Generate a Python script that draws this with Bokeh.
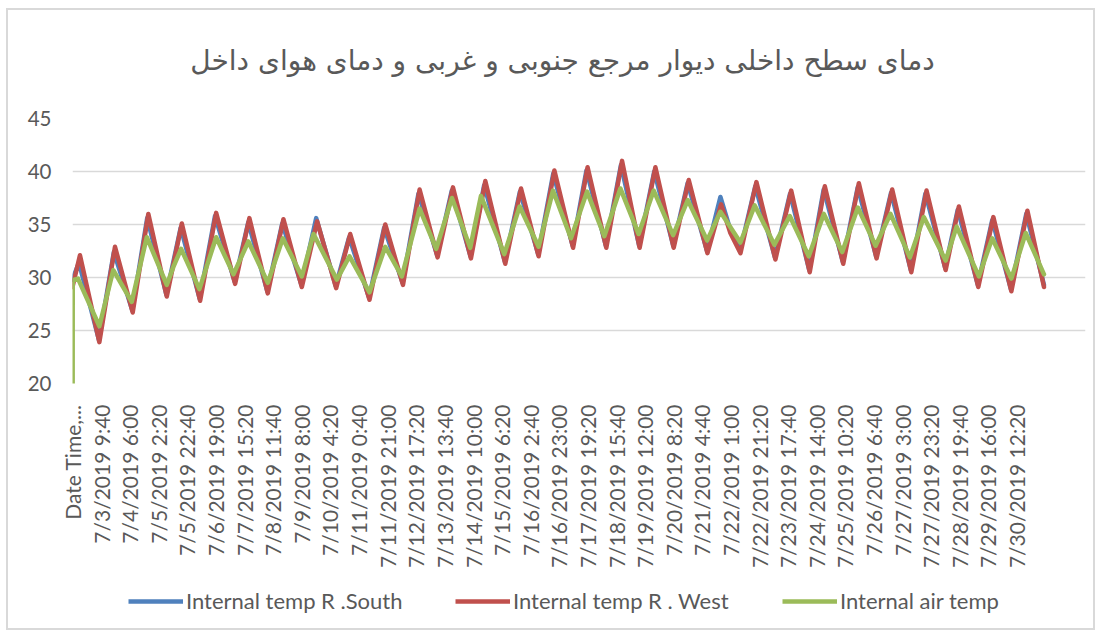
from math import pi
from bokeh.plotting import figure
from bokeh.layouts import column
from bokeh.core.properties import value
from bokeh.models import Range1d, FixedTicker, Legend, LegendItem
from bokeh.embed import file_html
from bokeh.resources import INLINE

# ---- data (time in hours from the "Date Time" category, 7/2/2019 13:20) ----
tick_labels = ["Date Time,...", "7/3/2019 9:40", "7/4/2019 6:00", "7/5/2019 2:20", "7/5/2019 22:40",
               "7/6/2019 19:00", "7/7/2019 15:20", "7/8/2019 11:40", "7/9/2019 8:00", "7/10/2019 4:20",
               "7/11/2019 0:40", "7/11/2019 21:00", "7/12/2019 17:20", "7/13/2019 13:40", "7/14/2019 10:00",
               "7/15/2019 6:20", "7/16/2019 2:40", "7/16/2019 23:00", "7/17/2019 19:20", "7/18/2019 15:40",
               "7/19/2019 12:00", "7/20/2019 8:20", "7/21/2019 4:40", "7/22/2019 1:00", "7/22/2019 21:20",
               "7/23/2019 17:40", "7/24/2019 14:00", "7/25/2019 10:20", "7/26/2019 6:40", "7/27/2019 3:00",
               "7/27/2019 23:20", "7/28/2019 19:40", "7/29/2019 16:00", "7/30/2019 12:20"]
label_step_min = 1220  # 20h20m between shown category labels

south_t = [0, 4.6, 18.8, 29.4, 42.5, 53.1, 66.7, 76.9, 90.4, 101.3, 115.3, 124.9, 138.5, 149.1, 162.7,
           173.2, 187.1, 196.6, 210.8, 221.5, 234.6, 245.9, 259.2, 269.6, 282.9, 292.6, 307.3, 318.0, 331.0,
           341.7, 355.5, 365.3, 379.1, 389.8, 402.8, 413.5, 427.0, 437.2, 451.0, 460.5, 467.3, 474.5, 485.3,
           499.3, 510.0, 523.7, 533.9, 547.5, 558.1, 571.2, 581.8, 595.9, 606.2, 620.3, 629.2, 643.5, 653.7,
           667.0, 677.9, 690.5]
south_v = [29.8, 31.4, 24.1, 32.4, 26.9, 35.6, 28.4, 34.7, 28.0, 35.8, 29.6, 35.2, 28.7, 35.1, 29.3,
           35.6, 29.2, 33.8, 28.1, 34.7, 29.5, 37.9, 32.1, 38.2, 32.0, 38.7, 31.5, 38.1, 32.2,
           39.8, 33.0, 40.1, 33.0, 40.6, 33.0, 40.0, 33.0, 38.9, 32.5, 37.6, 34.6, 32.5, 38.6,
           31.9, 37.9, 30.7, 38.3, 31.5, 38.5, 32.0, 38.0, 30.7, 37.9, 30.9, 36.4, 29.3, 35.4,
           28.9, 36.0, 29.3]

west_t = [0, 5.3, 19.1, 30.2, 42.8, 53.9, 67.0, 77.7, 90.7, 102.1, 115.6, 125.7, 138.8, 149.9, 163.0,
          173.9, 187.4, 197.4, 211.1, 222.3, 234.9, 246.7, 259.5, 270.4, 283.2, 293.4, 307.6, 318.8, 331.3,
          342.5, 355.8, 366.1, 379.4, 390.6, 403.1, 414.3, 427.3, 438.0, 451.3, 461.0, 467.6, 474.8, 486.1,
          499.6, 510.8, 524.0, 534.7, 547.8, 558.9, 571.5, 582.6, 596.2, 607.0, 620.6, 630.0, 643.8, 654.5,
          667.3, 678.7, 690.5]
west_v = [29.1, 32.1, 23.9, 32.9, 26.7, 36.0, 28.2, 35.1, 27.8, 36.1, 29.4, 35.6, 28.5, 35.5, 29.1,
          35.3, 29.0, 34.1, 27.9, 35.0, 29.3, 38.3, 31.9, 38.5, 31.8, 39.1, 31.3, 38.4, 32.0,
          40.1, 32.8, 40.4, 32.8, 41.0, 32.8, 40.4, 32.8, 39.2, 32.3, 36.9, 34.2, 32.3, 39.0,
          31.7, 38.2, 30.5, 38.6, 31.3, 38.9, 31.8, 38.3, 30.5, 38.2, 30.7, 36.7, 29.1, 35.7,
          28.7, 36.3, 29.1]

air_t = [0, 0.17, 3.9, 19.1, 29.0, 42.1, 52.8, 67.0, 71.7, 77.2, 90.2, 102.1, 114.4, 125.0, 138.8,
         149.5, 163.0, 171.3, 187.9, 196.9, 211.1, 222.3, 234.1, 246.7, 258.5, 269.7, 282.7, 290.3, 306.9,
         317.8, 331.3, 341.5, 354.3, 365.7, 378.0, 389.4, 402.4, 413.1, 426.9, 437.3, 451.1, 460.5, 474.7,
         484.9, 498.9, 509.8, 523.3, 534.0, 547.1, 558.2, 570.8, 581.4, 595.2, 605.1, 620.6, 628.4, 644.2,
         653.7, 667.3, 677.5, 690.5]
air_v = [0, 29.75, 29.9, 25.4, 30.7, 27.7, 33.8, 29.3, 31.0, 32.7, 28.9, 33.8, 30.3, 33.4, 29.5,
         33.7, 30.1, 34.1, 29.8, 32.0, 28.6, 32.9, 30.1, 36.5, 32.7, 37.5, 32.8, 37.7, 32.2,
         36.7, 32.9, 38.2, 33.7, 38.1, 33.9, 38.4, 34.1, 38.2, 34.0, 37.3, 33.5, 36.2, 33.3,
         36.8, 33.1, 35.8, 32.0, 36.0, 32.4, 36.6, 33.0, 36.0, 31.9, 35.7, 31.6, 34.8, 30.1,
         33.7, 29.9, 34.2, 30.3]

series_names = ["Internal temp R .South", "Internal temp R . West", "Internal air temp"]
title_text = "دمای سطح داخلی دیوار مرجع جنوبی و غربی و دمای هوای داخل"
y_ticks = [20, 25, 30, 35, 40, 45]

colors = ["#4F81BD", "#C0504D", "#9BBB59"]
LW = 4.5
W = 1085
BL, BR = 64, 8          # left / right borders shared by all strips

# ---- title strip ----
tp = figure(width=W, height=80, output_backend="svg", toolbar_location=None,
            x_axis_type=None, y_axis_type=None, min_border=0,
            min_border_left=BL, min_border_right=BR,
            x_range=Range1d(BL, W - BR), y_range=Range1d(0, 80))
tp.outline_line_color = None
tp.xgrid.visible = False
tp.ygrid.visible = False
tp.text(x=[554], y=[30], text=[title_text], text_align="center", text_baseline="middle",
        text_font=value("DejaVu Sans"), text_font_size="28px", text_color="#595959")

# ---- main chart ----
ticks_min = [k * label_step_min for k in range(len(tick_labels))]

p = figure(width=W, height=498, output_backend="svg", toolbar_location=None,
           x_range=Range1d(0, 720 * 60), y_range=Range1d(20, 45),
           min_border_left=BL, min_border_right=BR, min_border_top=28, min_border_bottom=205)
p.title.visible = False
p.outline_line_color = None
p.background_fill_color = "white"
p.border_fill_color = "white"

p.yaxis.ticker = FixedTicker(ticks=y_ticks)
p.yaxis.axis_line_color = None
p.yaxis.major_tick_line_color = None
p.yaxis.minor_tick_line_color = None
p.yaxis.major_label_text_font = "Lato"
p.yaxis.major_label_text_font_size = "20.5px"
p.yaxis.major_label_text_color = "#595959"
p.yaxis.major_label_standoff = 15

p.xaxis.ticker = FixedTicker(ticks=ticks_min)
p.xaxis.major_label_overrides = {t: l for t, l in zip(ticks_min, tick_labels)}
p.xaxis.major_label_orientation = pi / 2
p.xaxis.axis_line_color = None
p.xaxis.major_tick_line_color = None
p.xaxis.minor_tick_line_color = None
p.xaxis.major_label_text_font = "Lato"
p.xaxis.major_label_text_font_size = "21px"
p.xaxis.major_label_text_color = "#595959"
p.xaxis.major_label_standoff = 15

p.xgrid.visible = False
p.ygrid.ticker = FixedTicker(ticks=y_ticks)
p.ygrid.grid_line_color = "#D9D9D9"
p.ygrid.grid_line_width = 1.3

data = [(south_t, south_v), (west_t, west_v), (air_t, air_v)]
for (tt, vv), c in zip(data, colors):
    p.line(x=[t * 60 for t in tt], y=vv, line_color=c, line_width=LW,
           line_join="round", line_cap="round")

# ---- legend strip ----
lp = figure(width=W, height=40, output_backend="svg", toolbar_location=None,
            x_axis_type=None, y_axis_type=None, min_border=0,
            min_border_left=BL, min_border_right=BR,
            x_range=Range1d(0, 1), y_range=Range1d(0, 1))
lp.outline_line_color = None
lp.xgrid.visible = False
lp.ygrid.visible = False
items = []
for name, c in zip(series_names, colors):
    # off-range samples: only the legend swatch of these renderers is visible
    r = lp.line(x=[5, 6], y=[5, 6], line_color=c, line_width=LW)
    items.append(LegendItem(label=name, renderers=[r]))
legend = Legend(items=items, location=(56, 14), orientation="horizontal",
                border_line_color=None, background_fill_alpha=0, padding=0, margin=0, spacing=0,
                glyph_width=55, glyph_height=22, label_height=22, label_width=269,
                label_standoff=3, label_text_font="Lato", label_text_font_size="22px",
                label_text_color="#595959")
lp.add_layout(legend, "center")

layout = column(tp, p, lp, spacing=0)
layout.styles = {"border": "2px solid #D9D9D9", "margin": "8px 0 0 6px"}

open("out.html", "w").write(file_html(layout, INLINE))
